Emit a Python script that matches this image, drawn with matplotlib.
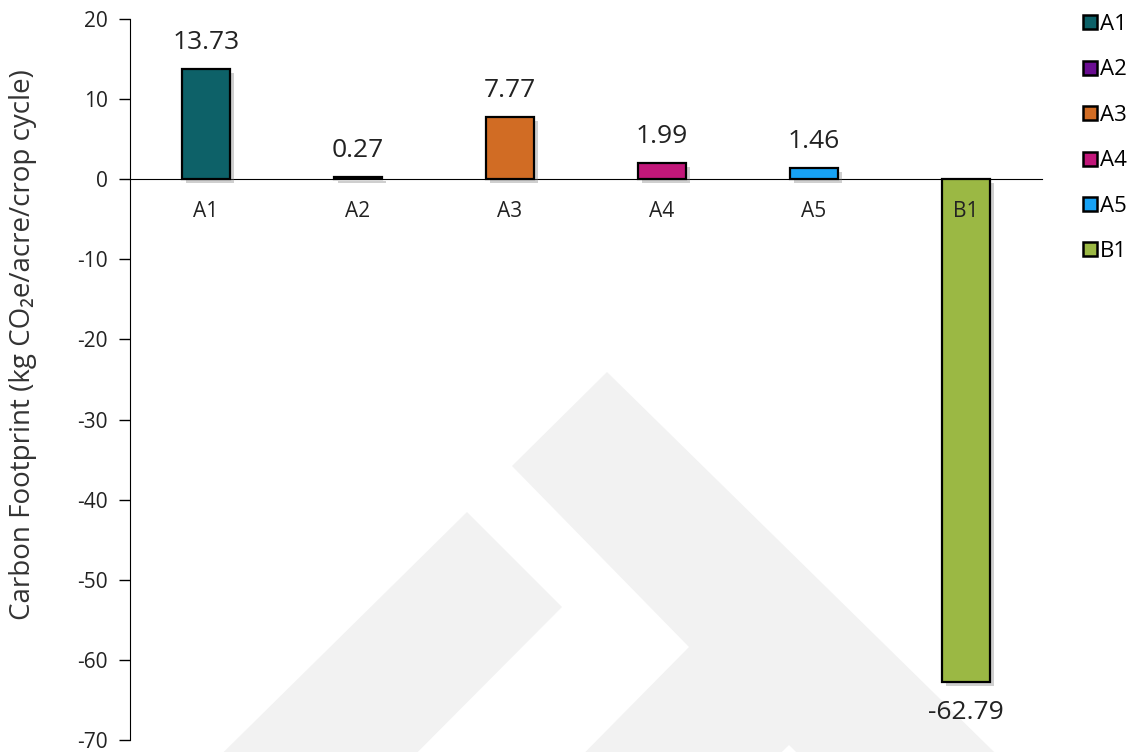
import numpy as np
import matplotlib.pyplot as plt
import matplotlib.patheffects as pe
from matplotlib.patches import Polygon
from matplotlib.lines import Line2D

plt.rcParams['font.family'] = ['Open Sans', 'DejaVu Sans']
plt.rcParams['axes.unicode_minus'] = False

# data
categories = ['A1', 'A2', 'A3', 'A4', 'A5', 'B1']
values = [13.73, 0.27, 7.77, 1.99, 1.46, -62.79]
colors = ['#0d6168', '#6a0d91', '#d16c24', '#c2177a', '#17a2f5', '#9bb844']
yticks = [20, 10, 0, -10, -20, -30, -40, -50, -60, -70]

W, H = 1142, 752
fig = plt.figure(figsize=(W / 100, H / 100), dpi=100)
ax = fig.add_axes([130 / W, 1 - 740 / H, 912 / W, 721 / H])
ax.patch.set_facecolor('none')

# faint logo in the background (pixel coords -> figure fraction)
def px(pts):
    return [(x / W, 1 - y / H) for x, y in pts]

logo_big = px([(607, 372), (1043, 800), (538, 800), (689, 647), (512, 466)])
logo_small = px([(467, 512), (562, 607), (370, 800), (175, 800)])
logo_notch = px([(789, 745), (845, 800), (733, 800)])
for poly, c, z in [(logo_big, '#f2f2f2', -3), (logo_small, '#f2f2f2', -3), (logo_notch, 'white', -2)]:
    fig.add_artist(Polygon(poly, closed=True, transform=fig.transFigure,
                           facecolor=c, edgecolor='none', zorder=z))

x = np.arange(len(categories))
bars = ax.bar(x, values, width=0.32, color=colors, edgecolor='black', linewidth=1.6, zorder=1)
for b in bars:
    b.set_path_effects([pe.SimplePatchShadow(offset=(3, -3), shadow_rgbFace='#777777', alpha=0.35),
                        pe.Normal()])

for xi, v in zip(x, values):
    off = 19 if v >= 0 else -22
    ax.annotate(f'{v:.2f}', (xi, v), xytext=(0, off), textcoords='offset points',
                ha='center', va='center', fontsize=19, color='#222222')

ax.set_xlim(-0.5, len(categories) - 0.5)
ax.set_ylim(-70, 20)
ax.set_yticks(yticks)
ax.set_yticklabels([str(t) for t in yticks])
ax.set_xticks(x)
ax.set_xticklabels(categories)

ax.spines['top'].set_visible(False)
ax.spines['right'].set_visible(False)
ax.spines['bottom'].set_position(('data', 0))
ax.spines['bottom'].set_zorder(0.9)
ax.tick_params(axis='x', length=0, pad=16, labelsize=15, labelcolor='#222222')
ax.tick_params(axis='y', length=8, width=1, pad=8, labelsize=15, labelcolor='#222222')

ax.set_ylabel('Carbon Footprint (kg CO₂e/acre/crop cycle)', fontsize=20, color='#333333')
ax.yaxis.set_label_coords(-0.102, 0.548)

handles = [Line2D([], [], marker='s', linestyle='none', markersize=10,
                  markerfacecolor=c, markeredgecolor='black', markeredgewidth=1.8)
           for c in colors]
fig.legend(handles, categories, loc='upper left', bbox_to_anchor=(1083 / W, 1 - 14 / H),
           frameon=False, fontsize=16, handlelength=0.6, handletextpad=0.15,
           labelspacing=1.1, borderpad=0, borderaxespad=0)

fig.savefig('out.png', dpi=100)
